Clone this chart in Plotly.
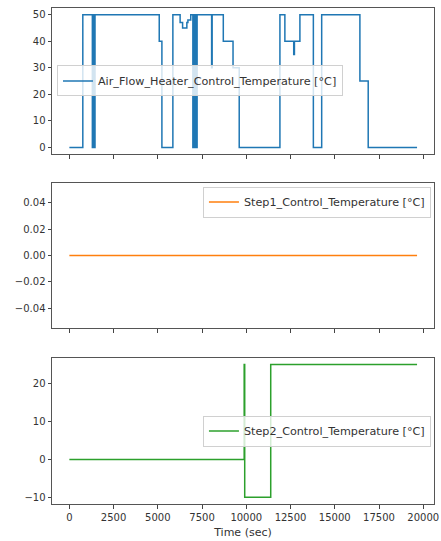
import plotly.graph_objects as go
from plotly.subplots import make_subplots

# Step breakpoints: each value is held from its time until the next time
heater_time = [0, 760, 1300, 1330, 1360, 1390, 1420, 1450, 1480,
               5080, 5230, 5850, 6260, 6400, 6640, 6700, 6860,
               6980, 7010, 7040, 7080, 7110, 7150, 7180, 7220,
               8040, 8070, 8700, 9250, 9600,
               11900, 12180, 12680, 12720, 13030, 13790, 14260,
               16420, 16890, 19650]
heater_value = [0, 50, 0, 50, 0, 50, 0, 50, 50,
                40, 0, 50, 47, 45, 47, 48, 50,
                0, 50, 0, 50, 0, 50, 0, 50,
                30, 50, 40, 30, 0,
                50, 40, 35, 40, 50, 0, 50,
                25, 0, 0]

step1_time = [0, 19650]
step1_value = [0.0, 0.0]

step2_time = [0, 9880, 9910, 11380, 19650]
step2_value = [0, 25, -10, 25, 25]

x_ticks = [0, 2500, 5000, 7500, 10000, 12500, 15000, 17500, 20000]
x_range = [-981, 20608]

series = [
    ("Air_Flow_Heater_Control_Temperature [°C]", heater_time, heater_value, "#1f77b4"),
    ("Step1_Control_Temperature [°C]", step1_time, step1_value, "#ff7f0e"),
    ("Step2_Control_Temperature [°C]", step2_time, step2_value, "#2ca02c"),
]

fig = make_subplots(rows=3, cols=1, shared_xaxes=False, vertical_spacing=0.06)

legend_names = ["legend", "legend2", "legend3"]
for i, (name, t, v, color) in enumerate(series):
    fig.add_trace(
        go.Scatter(x=t, y=v, mode="lines", name=name, line_shape="hv",
                   line=dict(color=color, width=1.5),
                   legend=legend_names[i]),
        row=i + 1, col=1)

# Panel placement (paper fractions)
domains = [[0.7056, 1.0], [0.3548, 0.6472], [0.0, 0.2944]]
y_ranges = [[-2.5, 52.5], [-0.055, 0.055], [-11.75, 26.75]]
y_ticks = [[0, 10, 20, 30, 40, 50], [-0.04, -0.02, 0.0, 0.02, 0.04], [-10, 0, 10, 20]]
y_formats = ["d", ".2f", "d"]

axis_font = dict(family="DejaVu Sans", size=10, color="#333333")
for i in range(3):
    fig.update_xaxes(
        row=i + 1, col=1, range=x_range, tickvals=x_ticks, tickformat="d",
        showticklabels=(i == 2), ticks="outside", ticklen=3.5, tickcolor="#444444",
        showline=True, linecolor="#555555", linewidth=1, mirror=True,
        showgrid=False, zeroline=False, tickfont=axis_font, automargin=False)
    fig.update_yaxes(
        row=i + 1, col=1, range=y_ranges[i], tickvals=y_ticks[i], tickformat=y_formats[i],
        domain=domains[i], ticks="outside", ticklen=3.5, tickcolor="#444444",
        showline=True, linecolor="#555555", linewidth=1, mirror=True,
        showgrid=False, zeroline=False, tickfont=axis_font, automargin=False)

fig.update_xaxes(row=3, col=1,
                 title=dict(text="Time (sec)",
                            font=dict(family="DejaVu Sans", size=11, color="#333333"),
                            standoff=6))

legend_style = dict(bgcolor="rgba(255,255,255,0.8)", bordercolor="#d0d0d0", borderwidth=1,
                    font=dict(family="DejaVu Sans", size=11.2, color="#333333"),
                    xref="paper", yref="paper", itemwidth=30, tracegroupgap=0)

fig.update_layout(
    width=441, height=541,
    margin=dict(l=52, r=7, t=8, b=37),
    paper_bgcolor="white", plot_bgcolor="white",
    showlegend=True,
    legend=dict(x=0.013, y=0.853, xanchor="left", yanchor="middle", **legend_style),
    legend2=dict(x=0.992, y=0.640, xanchor="right", yanchor="top", **legend_style),
    legend3=dict(x=0.992, y=0.147, xanchor="right", yanchor="middle", **legend_style),
)

fig.write_html("out.html")
